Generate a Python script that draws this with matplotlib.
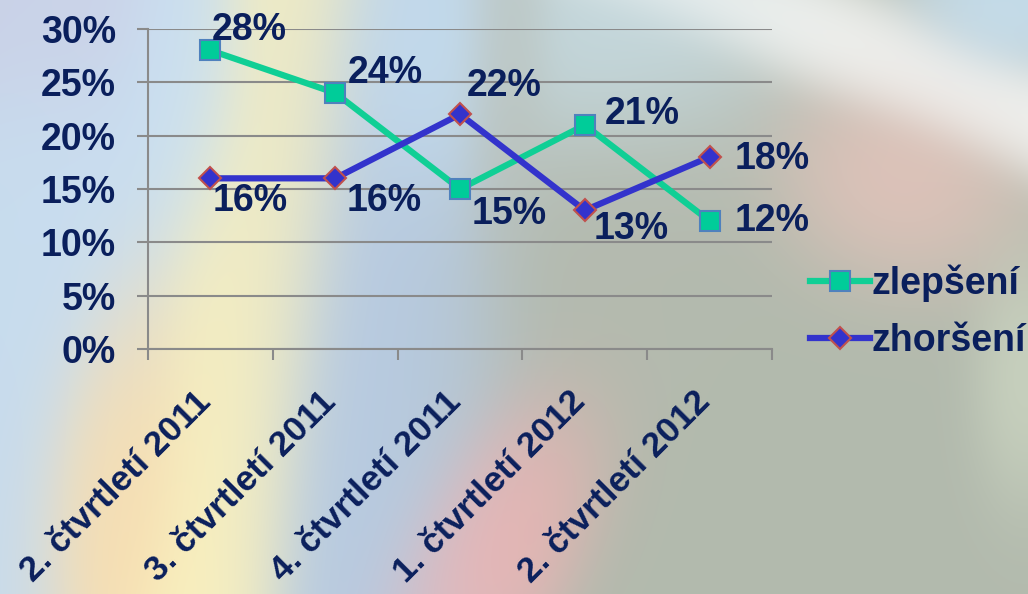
import numpy as np
import matplotlib
matplotlib.use("Agg")
import matplotlib.pyplot as plt

plt.rcParams.update({
    "font.family": ["Liberation Sans", "DejaVu Sans"],
    "font.weight": "bold",
    "font.size": 27,
})

categories = ["2. čtvrtletí 2011", "3. čtvrtletí 2011", "4. čtvrtletí 2011",
              "1. čtvrtletí 2012", "2. čtvrtletí 2012"]
zlepseni = [28, 24, 15, 21, 12]
zhorseni = [16, 16, 22, 13, 18]
yticks = [0, 5, 10, 15, 20, 25, 30]

# label offsets in pixels from each point
off_zlep = [(39, 20), (50, 20), (49, -25), (57, 11), (63, 0)]
off_zhor = [(40, -23), (49, -23), (44, 28), (46, -19), (63, -2)]

NAVY = "#0a1f5c"
GRID = "#8a8a8a"
W, H = 1028, 594

fig = plt.figure(figsize=(W / 100, H / 100), dpi=100)

# soft multicoloured slide background
yy, xx = np.mgrid[0:H, 0:W].astype(float)
blobs = [
    # cx, cy, sx, sy, angle(deg), rgb, weight
    (10, 330, 40, 400, 0, (0.78, 0.86, 0.93), 1.2),
    (60, 150, 70, 200, 0, (0.79, 0.87, 0.94), 1.0),
    (190, 80, 40, 90, 0, (0.79, 0.88, 0.95), 1.0),
    (10, 10, 70, 70, 0, (0.80, 0.78, 0.88), 1.2),
    (255, 280, 45, 330, 8, (0.99, 0.95, 0.74), 1.6),
    (110, 490, 45, 110, 8, (0.98, 0.87, 0.68), 1.3),
    (370, 350, 75, 260, 0, (0.72, 0.80, 0.90), 1.4),
    (420, 60, 50, 80, 0, (0.78, 0.88, 0.95), 1.2),
    (505, 90, 25, 90, 0, (0.73, 0.75, 0.71), 1.0),
    (640, 60, 80, 70, 0, (0.79, 0.88, 0.92), 1.0),
    (500, 540, 45, 90, 30, (0.96, 0.70, 0.70), 1.6),
    (800, 400, 200, 230, 0, (0.70, 0.73, 0.68), 1.6),
    (650, 250, 70, 90, 0, (0.71, 0.73, 0.69), 1.2),
    (900, 70, 220, 30, 22, (1.00, 1.00, 1.00), 1.5),
    (890, 190, 70, 60, 15, (0.96, 0.78, 0.75), 1.4),
    (1000, 10, 50, 40, 0, (0.78, 0.88, 0.95), 1.2),
    (1020, 380, 30, 70, 0, (0.84, 0.88, 0.79), 1.0),
]
acc = np.zeros((H, W, 3))
wsum = np.full((H, W), 1e-4)
for cx, cy, sx, sy, ang, rgb, wt in blobs:
    a = np.deg2rad(ang)
    dx, dy = xx - cx, yy - cy
    u = dx * np.cos(a) + dy * np.sin(a)
    v = -dx * np.sin(a) + dy * np.cos(a)
    w = wt * np.exp(-0.5 * ((u / sx) ** 2 + (v / sy) ** 2))
    acc += w[..., None] * np.array(rgb)
    wsum += w
bg = acc / wsum[..., None]
bgax = fig.add_axes([0, 0, 1, 1], zorder=-1)
bgax.imshow(bg, aspect="auto", interpolation="bilinear")
bgax.axis("off")

ax = fig.add_axes([148 / W, 1 - 349 / H, (772 - 148) / W, (349 - 29) / H])
ax.patch.set_alpha(0)
x = np.arange(len(categories))

ax.plot(x, zlepseni, color="#10cf95", lw=4.5, marker="s", ms=14,
        mfc="#00cc99", mec="#4f81bd", mew=1.5, label="zlepšení", zorder=3)
ax.plot(x, zhorseni, color="#3333cc", lw=4.5, marker="D", ms=11,
        mfc="#3333cc", mec="#c0504d", mew=1.5, label="zhoršení", zorder=3)

for xi, v, o in zip(x, zlepseni, off_zlep):
    ax.annotate(f"{v}%", (xi, v), xytext=o, textcoords="offset pixels",
                ha="center", va="center", color=NAVY)
for xi, v, o in zip(x, zhorseni, off_zhor):
    ax.annotate(f"{v}%", (xi, v), xytext=o, textcoords="offset pixels",
                ha="center", va="center", color=NAVY)

ax.set_xlim(-0.5, len(categories) - 0.5)
ax.set_ylim(0, 30)
ax.set_yticks(yticks)
ax.set_yticklabels([f"{t}%" for t in yticks], color=NAVY)
ax.yaxis.grid(True, color=GRID, lw=1.5)
ax.tick_params(axis="y", length=8, width=1.5, color=GRID, pad=15)

# category labels, rotated, hanging below their slot
ax.set_xticks(np.arange(-0.5, len(categories)))
ax.set_xticklabels([])
ax.tick_params(axis="x", length=8, width=1.5, color=GRID)
for xi, cat in zip(x, categories):
    ax.annotate(cat, (xi, 0), xytext=(7, -36), textcoords="offset pixels",
                xycoords=("data", "axes fraction"), rotation=45,
                ha="right", va="top", color=NAVY, fontsize=25.5,
                annotation_clip=False)

for s in ["top", "right"]:
    ax.spines[s].set_visible(False)
for s in ["left", "bottom"]:
    ax.spines[s].set_color(GRID)
    ax.spines[s].set_linewidth(1.5)

leg = ax.legend(loc="center left", bbox_to_anchor=(810 / W, 1 - 312 / H),
                bbox_transform=fig.transFigure, frameon=False,
                handlelength=1.6, handletextpad=0.05, labelspacing=0.55,
                borderpad=0, borderaxespad=0)
for t in leg.get_texts():
    t.set_color(NAVY)

fig.savefig("out.png", dpi=100)
